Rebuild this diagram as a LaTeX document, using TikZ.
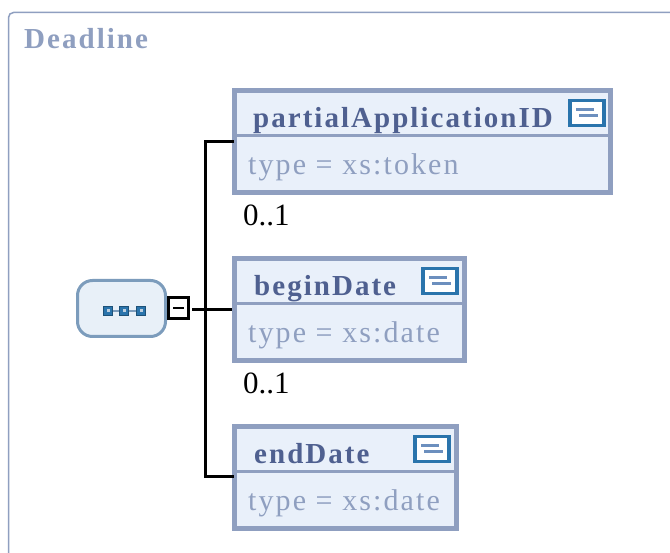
\documentclass[tikz,border=0pt]{standalone}
\usepackage{fontspec}
\setmainfont{Liberation Serif}
\newfontfamily\titlefont[LetterSpace=7]{Liberation Serif}
\newfontfamily\typefont[LetterSpace=7]{Liberation Serif}
\definecolor{frameblue}{HTML}{8F9FC0}
\definecolor{boxfill}{HTML}{E9F0FA}
\definecolor{namecol}{HTML}{4F6090}
\definecolor{iconblue}{HTML}{2A74AC}
\definecolor{barblue}{HTML}{6C8FBE}
\definecolor{seqline}{HTML}{7C9CBC}
\definecolor{seqfill}{HTML}{E8F0F8}
\tikzset{
  elbox/.style={draw=frameblue,fill=boxfill,line width=5pt,minimum height=102pt,inner sep=0pt,anchor=north west,rectangle},
  namelabel/.style={anchor=base west,inner sep=0pt,text=namecol,font=\fontsize{29}{29}\bfseries\titlefont},
  typelabel/.style={anchor=base west,inner sep=0pt,text=frameblue,font=\fontsize{30}{30}\typefont},
  occurs/.style={anchor=base west,inner sep=0pt,text=black,font=\fontsize{31}{31}\selectfont},
  iconbox/.style={draw=iconblue,fill=white,line width=3.2pt,minimum width=34pt,minimum height=25.5pt,inner sep=0pt,rectangle},
  iconbar/.style={draw=barblue,line width=3pt},
  sepline/.style={draw=frameblue,line width=3pt},
  conn/.style={draw=black,line width=3pt},
  seqdot/.style={fill=iconblue,draw=iconblue!70!black,line width=0.8pt,minimum size=8.5pt,inner sep=0pt,rectangle},
}
\begin{document}
\begin{tikzpicture}[x=1pt,y=-1pt]
\useasboundingbox (0,0) rectangle (670,553);
\fill[white] (0,0) rectangle (670,553);
\coordinate (fa) at (8.5,553); \coordinate (fb) at (8.5,12.5); \coordinate (fc) at (670,12.5);
\draw[frameblue,line width=1.5pt,rounded corners=5pt] (fa) -- (fb) -- (fc);
\node[anchor=base west,inner sep=0pt,text=frameblue,font=\fontsize{29}{29}\bfseries\titlefont] (title) at (24,49) {Deadline};

\node[elbox,minimum width=376pt] (p) at (232,88) {};
\node[elbox,minimum width=230pt] (b) at (232,256) {};
\node[elbox,minimum width=222pt] (e) at (232,424) {};

\coordinate (ps) at (234.5,136); \coordinate (bs) at (234.5,304); \coordinate (es) at (234.5,472);
\draw[sepline] (ps) -- (ps -| p.east);
\draw[sepline] (bs) -- (bs -| b.east);
\draw[sepline] (es) -- (es -| e.east);

\node[namelabel] (pn) at (253,128) {partialApplicationID};
\node[namelabel] (bn) at (254,296) {beginDate};
\node[namelabel] (en) at (254,464) {endDate};
\node[typelabel] (pt) at (248,175) {type = xs:token};
\node[typelabel] (bt) at (248,343) {type = xs:date};
\node[typelabel] (et) at (248,511) {type = xs:date};
\node[occurs] (po) at (243,226) {0..1};
\node[occurs] (bo) at (243,394) {0..1};

\node[iconbox] (pi) at (587,113) {};
\node[iconbox] (bi) at (440,281) {};
\node[iconbox] (ei) at (432,449) {};
\foreach \n in {pi,bi,ei}{
  \draw[iconbar] ([xshift=-8pt,yshift=-3pt]\n.center) -- ([xshift=11pt,yshift=-3pt]\n.center);
  \draw[iconbar] ([xshift=-11pt,yshift=3pt]\n.center) -- ([xshift=7pt,yshift=3pt]\n.center);
}

\node[draw=seqline,fill=seqfill,line width=3pt,rounded corners=15pt,minimum width=88pt,minimum height=56pt,inner sep=0pt,rectangle] (seq) at (121.5,308.5) {};
\node[seqdot] (d1) at (108,311) {};
\node[seqdot] (d2) at (124,311) {};
\node[seqdot] (d3) at (141,311) {};
\draw[seqline,line width=2pt] (d1) -- (d2);
\draw[seqline,line width=2pt] (d2) -- (d3);
\foreach \n in {d1,d2,d3}{\fill[seqline!50!white] ([xshift=-1.5pt,yshift=-1.5pt]\n.center) rectangle ([xshift=1.5pt,yshift=1.5pt]\n.center);}

\node[draw=black,fill=white,line width=3pt,minimum size=20.5pt,inner sep=0pt,rectangle] (minus) at (178.5,308) {};
\draw[black,line width=2.4pt] ([xshift=-5.5pt]minus.center) -- ([xshift=5.5pt]minus.center);

\coordinate (junc) at (205,310);
\coordinate (top) at (205,142);
\coordinate (bot) at (205,477);
\coordinate (start) at (192,310);
\draw[conn] (start) -- (b.west |- junc);
\draw[conn,line cap=rect] (p.west |- top) -- (top) -- (bot) -- (e.west |- bot);
\end{tikzpicture}
\end{document}
